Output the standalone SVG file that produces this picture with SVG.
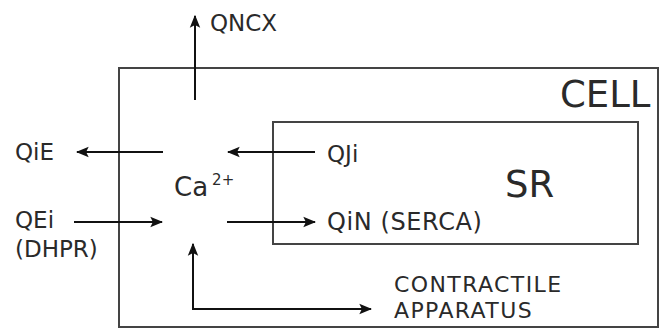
<svg xmlns="http://www.w3.org/2000/svg" width="668" height="329" viewBox="0 0 668 329">
<style>
text{font-family:"DejaVu Sans","Liberation Sans",sans-serif;fill:#2a2a2a}
.box{fill:none;stroke:#444;stroke-width:2}
.lbl{font-size:23px}
.wide{font-size:24px;letter-spacing:0.6px}
.cap{font-size:22px;letter-spacing:1.4px}
.big{font-size:37px}
.arr{fill:none;stroke:#111;stroke-width:2}
</style>
<defs>
<marker id="ahs" viewBox="0 0 10 10" refX="9" refY="5" markerWidth="13" markerHeight="13" orient="auto" markerUnits="userSpaceOnUse">
<path d="M0,1 L10,5 L0,9 L2,5 z" fill="#111"/>
</marker>
</defs>
<rect width="668" height="329" fill="#fff"/>
<g id="cell">
<rect class="box" x="119" y="68" width="539" height="259"/>
<text class="big" x="560" y="107">CELL</text>
</g>
<g id="sr">
<rect class="box" x="273" y="122" width="365" height="122"/>
<text class="big" x="505" y="197">SR</text>
</g>
<g id="ca">
<text x="174" y="196" font-size="26">Ca<tspan font-size="15" dy="-11" dx="4">2+</tspan></text>
</g>
<g id="qncx"><text class="lbl" x="210" y="31">QNCX</text></g>
<g id="qie"><text class="lbl" x="15" y="160">QiE</text></g>
<g id="qei"><text class="lbl" x="15" y="228">QEi</text><text class="lbl" x="15" y="257">(DHPR)</text></g>
<g id="qji"><text class="lbl" x="327" y="162">QJi</text></g>
<g id="qin"><text class="wide" x="327" y="230">QiN (SERCA)</text></g>
<g id="contractile"><text class="cap" x="394" y="292">CONTRACTILE</text><text class="cap" x="394" y="318">APPARATUS</text></g>
<g id="connectors">
<path class="arr" d="M195,100 V16" marker-end="url(#ahs)"/>
<path class="arr" d="M163,152 H77" marker-end="url(#ahs)"/>
<path class="arr" d="M315,152 H228" marker-end="url(#ahs)"/>
<path class="arr" d="M74,222 H162" marker-end="url(#ahs)"/>
<path class="arr" d="M227,222 H315" marker-end="url(#ahs)"/>
<path class="arr" d="M193,309 V244" marker-end="url(#ahs)"/>
<path class="arr" d="M192,309 H371" marker-end="url(#ahs)"/>
</g>
</svg>
